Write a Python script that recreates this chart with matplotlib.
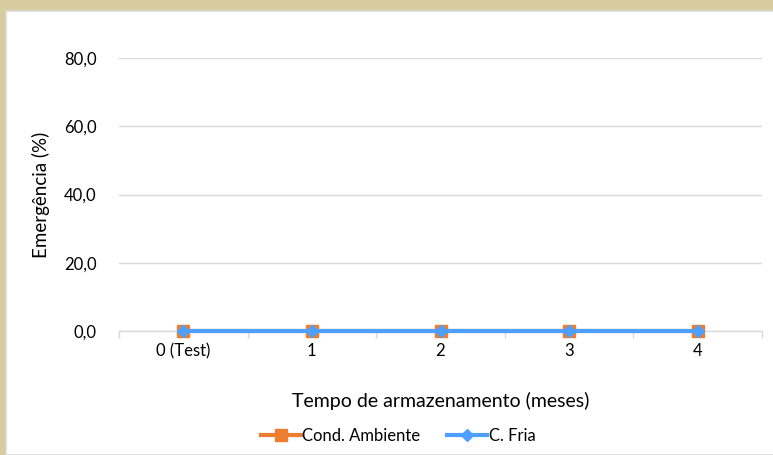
import matplotlib.pyplot as plt
from matplotlib.patches import Rectangle

plt.rcParams['font.family'] = ['Lato', 'DejaVu Sans']

categorias = ['0 (Test)', '1', '2', '3', '4']
cond_ambiente = [0.0, 0.0, 0.0, 0.0, 0.0]
c_fria = [0.0, 0.0, 0.0, 0.0, 0.0]
y_ticks = [0, 20, 40, 60, 80]

fig = plt.figure(figsize=(7.73, 4.55), dpi=100)
fig.patch.set_facecolor('#D7CC9E')
# white chart panel
fig.patches.append(Rectangle((6 / 773, 0), 1, 1 - 11 / 455, transform=fig.transFigure,
                             facecolor='white', edgecolor='#D9D9D9', linewidth=1.2, zorder=-5))

ax = fig.add_axes([119 / 773, 1 - 331 / 455, 643 / 773, 273 / 455])
ax.set_facecolor('none')

x = list(range(len(categorias)))
ax.plot(x, cond_ambiente, color='#ED7D31', linewidth=3, marker='s', markersize=8,
        label='Cond. Ambiente', zorder=3, clip_on=False)
ax.plot(x, c_fria, color='#4DA0FF', linewidth=3, marker='D', markersize=6,
        label='C. Fria', zorder=4, clip_on=False)

ax.set_xlim(-0.5, len(categorias) - 0.5)
ax.set_ylim(0, 80)
ax.set_yticks(y_ticks)
ax.set_yticklabels([f'{v:.1f}'.replace('.', ',') for v in y_ticks], fontsize=12)
ax.set_xticks(x)
ax.set_xticklabels(categorias, fontsize=12)
ax.tick_params(axis='x', length=0, pad=9)
ax.tick_params(axis='y', length=0, pad=16)
ax.set_xticks([i + 0.5 for i in range(-1, len(categorias))], minor=True)
ax.tick_params(axis='x', which='minor', length=5, color='#D9D9D9', width=1)

ax.grid(axis='y', color='#D9D9D9', linewidth=1)
for s in ['top', 'right', 'left']:
    ax.spines[s].set_visible(False)
ax.spines['bottom'].set_color('#D9D9D9')
ax.spines['bottom'].set_linewidth(1)

ax.set_ylabel('Emergência (%)', fontsize=13.5, labelpad=10)
ax.set_xlabel('Tempo de armazenamento (meses)', fontsize=14, labelpad=23)

fig.legend(loc='center', bbox_to_anchor=(398 / 773, 1 - 436 / 455), ncol=2, frameon=False,
           fontsize=12, handlelength=2.4, handletextpad=0.1, columnspacing=1.6)

fig.savefig('out.png', dpi=100, facecolor=fig.get_facecolor())
